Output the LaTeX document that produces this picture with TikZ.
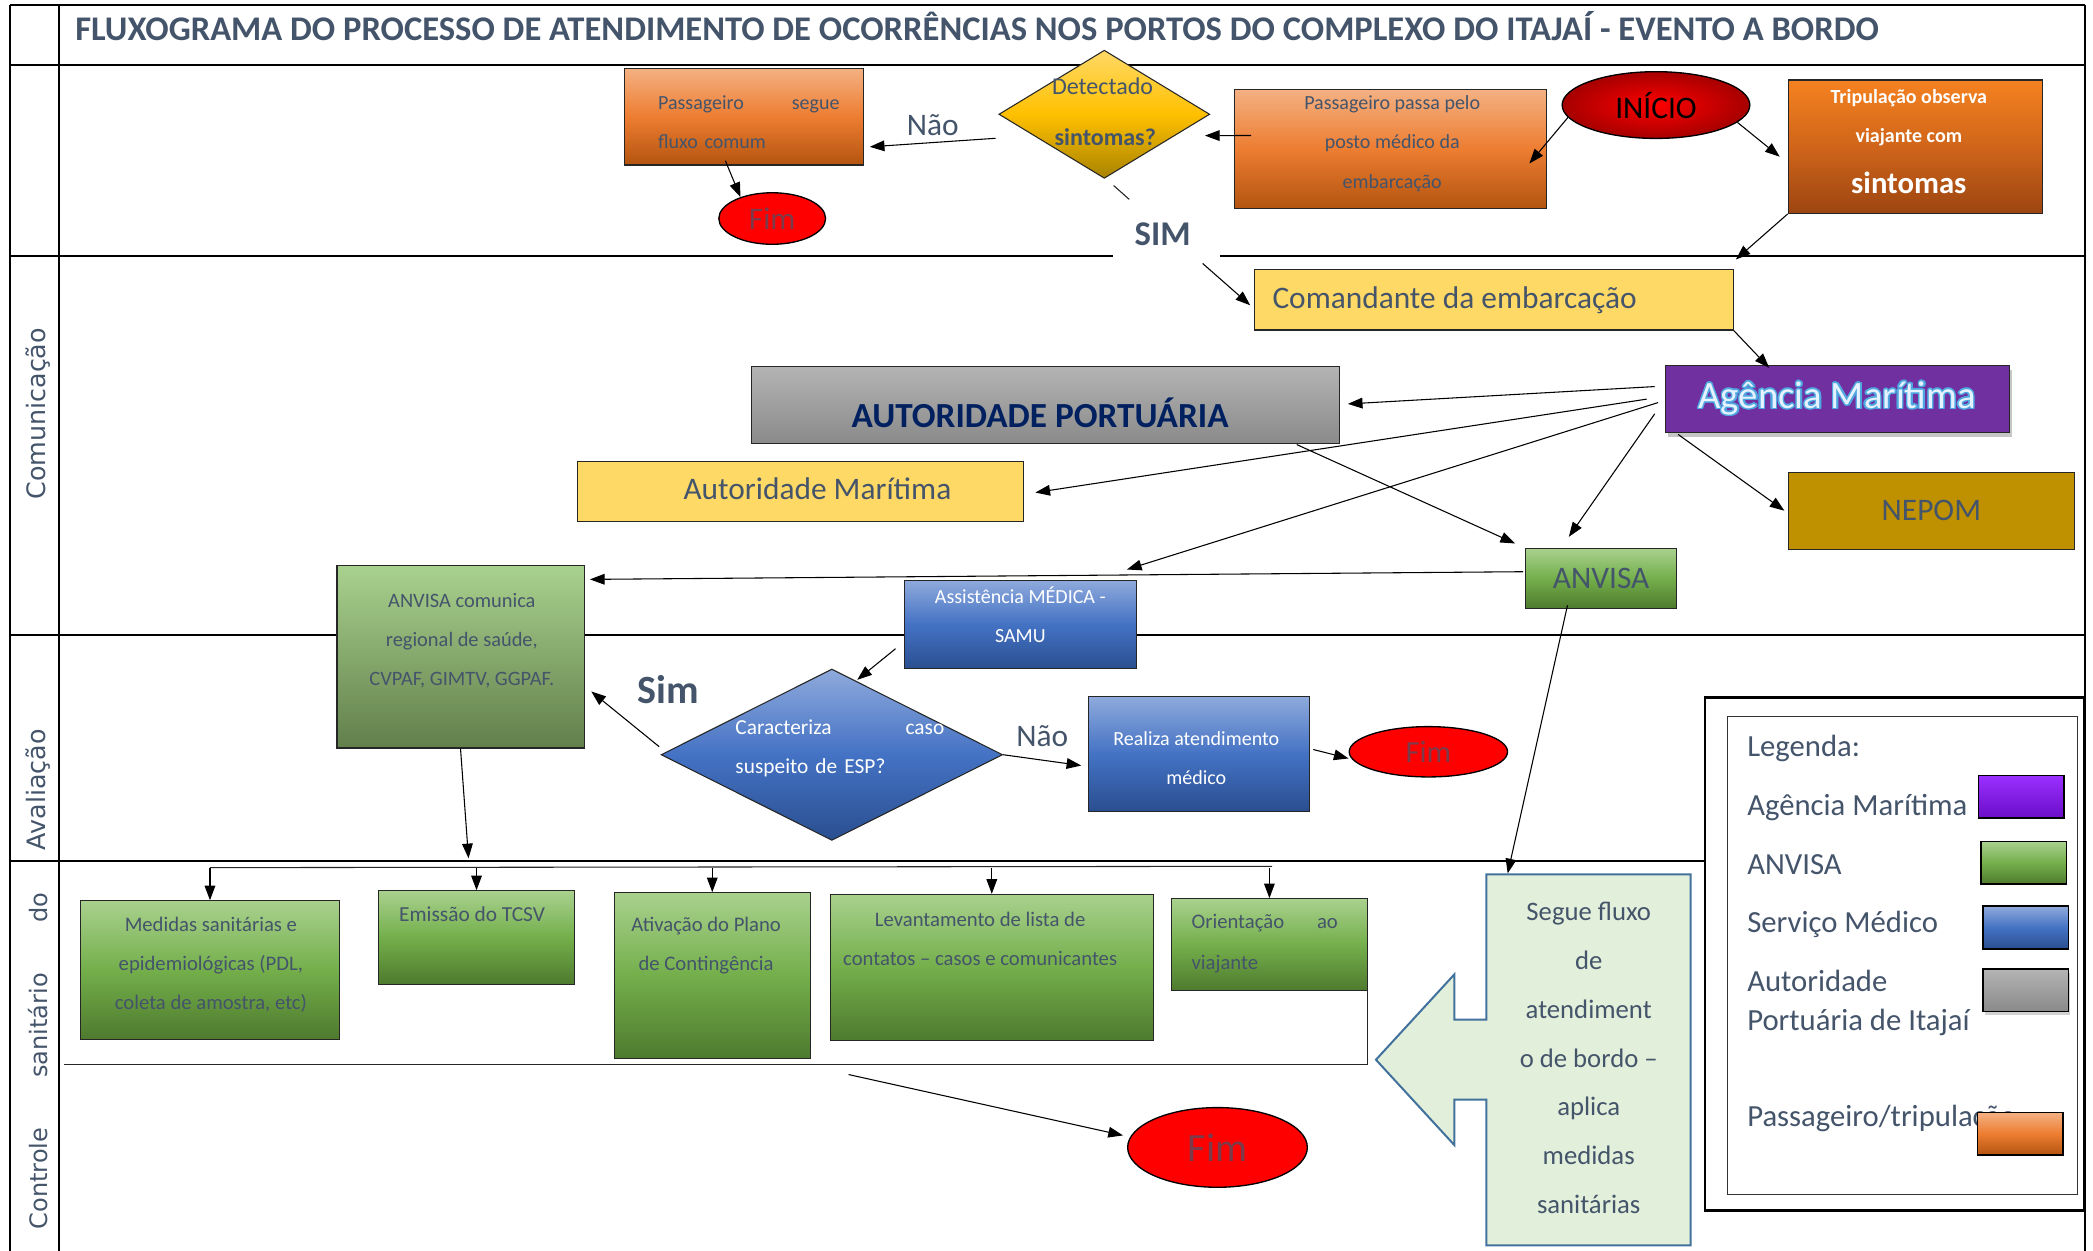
\documentclass[tikz,border=0pt]{standalone}
\usepackage{fontspec}
\setmainfont{Carlito}
\newfontfamily\lanefont{DejaVu Sans}
\usepackage{tikz}
\usetikzlibrary{calc,positioning,shapes.geometric,arrows.meta,shadows}
\usepackage{contour}
\contourlength{1.1pt}

\definecolor{slate}{HTML}{44546A}
\definecolor{navy}{HTML}{002060}
\definecolor{oranA}{HTML}{F4B183}
\definecolor{oranB}{HTML}{ED7D31}
\definecolor{oranC}{HTML}{B3540F}
\definecolor{tripA}{HTML}{F58220}
\definecolor{tripB}{HTML}{D0651A}
\definecolor{tripC}{HTML}{9C4511}
\definecolor{goldA}{HTML}{FFD966}
\definecolor{goldB}{HTML}{FFC000}
\definecolor{goldC}{HTML}{A88300}
\definecolor{yelo}{HTML}{FFD966}
\definecolor{nepomc}{HTML}{BF9000}
\definecolor{purp}{HTML}{7030A0}
\definecolor{greenA}{HTML}{A9D18E}
\definecolor{greenB}{HTML}{74AF4B}
\definecolor{greenC}{HTML}{4E7A2E}
\definecolor{greenD}{HTML}{617F4B}
\definecolor{blueA}{HTML}{8FAADC}
\definecolor{blueB}{HTML}{4472C4}
\definecolor{blueC}{HTML}{2A4F90}
\definecolor{grayA}{HTML}{B4B4B4}
\definecolor{grayC}{HTML}{8A8A8A}
\definecolor{callfill}{HTML}{E2EFDA}
\definecolor{callline}{HTML}{41719C}
\definecolor{glow}{HTML}{4FA8E0}
\definecolor{agtxt}{HTML}{E6F2FF}
\definecolor{violA}{HTML}{9B30FF}
\definecolor{violC}{HTML}{6A0DC8}
\colorlet{fimtxt}{slate!70!red}

\newcommand{\fsz}[2]{\fontsize{#1}{#2}\selectfont}

\tikzset{
  lane/.style={line width=1.6pt},
  linha/.style={line width=0.8pt, draw=black!85},
  caixa/.style={draw=black!85, line width=0.8pt, inner sep=0pt, text=slate},
  laranja/.style={caixa, top color=oranA, bottom color=oranC, middle color=oranB},
  tripbox/.style={caixa, top color=tripA, bottom color=tripC, middle color=tripB},
  ouro/.style={caixa, diamond, top color=goldA, bottom color=goldC, middle color=goldB},
  amarelo/.style={caixa, fill=yelo},
  verde/.style={caixa, top color=greenA, bottom color=greenC, middle color=greenB},
  verdeclaro/.style={caixa, top color=greenA, bottom color=greenD},
  azul/.style={caixa, top color=blueA, bottom color=blueC, middle color=blueB, text=white},
  cinza/.style={caixa, top color=grayA, bottom color=grayC},
  vermelho/.style={ellipse, draw=black, line width=1pt, fill=red, inner sep=0pt, text=fimtxt},
  txt/.style={inner sep=0pt, text=slate, align=center},
  seta/.style={-{Triangle[length=11pt,width=8pt]}, line width=0.8pt},
  rotulo/.style={inner sep=0pt, text=slate, font=\lanefont\fsz{19}{23}},
  amostra/.style={draw=black, line width=1.3pt, inner sep=0pt, minimum width=64pt, minimum height=32pt},
}

\begin{document}
\begin{tikzpicture}[x=1pt,y=-1pt]
\useasboundingbox (0,0) rectangle (1568,937);

% raias
\draw[lane] (7.6,3.7) -- (1562,3.7);
\draw[lane] (7.6,3.7) -- (7.6,937);
\draw[lane] (44.3,3.7) -- (44.3,937);
\draw[lane] (1562,3.7) -- (1562,937);
\draw[lane] (7.6,48.7) -- (1562,48.7);
\draw[lane] (7.6,191.8) -- (834,191.8);
\draw[lane] (913.7,191.8) -- (1562,191.8);
\draw[lane] (7.6,475.7) -- (1562,475.7);
\draw[lane] (7.6,644.7) -- (1562,644.7);

\node[txt, anchor=west, font=\bfseries\fsz{25.9}{30}] (titulo) at (56.2,19.4) {FLUXOGRAMA DO PROCESSO DE ATENDIMENTO DE OCORRÊNCIAS NOS PORTOS DO COMPLEXO DO ITAJAÍ - EVENTO A BORDO};

\node[rotulo, rotate=90] (lcom) at (28.3,310) {Comunicação};
\node[rotulo, rotate=90] (lava) at (28.3,591.5) {Avaliação};
\node[rotulo, rotate=90, font=\lanefont\fsz{18}{22}, text width=252pt, align=left] (lcon) at (28.3,795) {Controle\hfill sanitário\hfill do};

% bordo
\node[laranja, minimum width=179.6pt, minimum height=72.4pt] (segue) at (557.4,87.4) {};
\node[txt, font=\fsz{15}{29.4}, text width=136pt, align=left] (seguetxt) at (561,91.4) {Passageiro\hfill segue\\fluxo comum};
\node[vermelho, minimum width=80pt, minimum height=38.6pt, font=\fsz{23.5}{28}] (fim1) at (578.5,163.7) {Fim};
\node[ouro, minimum width=158pt, minimum height=96pt] (detect) at (827.3,85.6) {};
\node[txt, font=\fsz{18}{22}] (dettxt) at (826,64.4) {Detectado};
\node[txt, font=\bfseries\fsz{18}{22}] (sinttxt) at (828,102.4) {sintomas?};
\node[laranja, minimum width=233.7pt, minimum height=89.1pt] (pp) at (1041.5,111.5) {};
\node[txt, font=\fsz{15}{29.4}] (pptxt) at (1043,107.5) {Passageiro passa pelo\\posto médico da\\embarcação};
\node[vermelho, inner color=red, outer color=red!65!black, minimum width=140.6pt, minimum height=50pt, text=black, font=\fsz{23.5}{28}] (inicio) at (1240.6,78.7) {INÍCIO};
\node[tripbox, minimum width=190.4pt, minimum height=99.9pt] (trip) at (1434.9,109.9) {};
\node[txt, text=white, font=\bfseries\fsz{15}{29.2}] (triptxt) at (1430,87.8) {Tripulação observa\\viajante com};
\node[txt, text=white, font=\bfseries\fsz{23}{28}] (tripsint) at (1430,137.3) {sintomas};
\node[txt, font=\bfseries\fsz{26}{30}] (sim) at (871,175.4) {SIM};

% comunicacao
\node[amarelo, minimum width=358.4pt, minimum height=45pt] (coman) at (1119.2,224.7) {};
\node[txt, font=\fsz{23.5}{28}, right=13.5pt of coman.west] (comantxt) {Comandante da embarcação};
\node[caixa, fill=purp, minimum width=257.7pt, minimum height=50.1pt, drop shadow={shadow xshift=2pt, shadow yshift=-3pt, opacity=0.45}, font=\fsz{29}{34}, text=agtxt] (agencia) at (1376.4,299) {\contour{glow}{Agência Marítima}};
\node[cinza, minimum width=440.3pt, minimum height=57.9pt] (autport) at (783.2,303.2) {};
\node[txt, text=navy, font=\bfseries\fsz{26.4}{30}] (autporttxt) at (779.2,309.6) {AUTORIDADE PORTUÁRIA};
\node[amarelo, minimum width=334.1pt, minimum height=45.4pt] (automar) at (599.6,368.1) {};
\node[txt, font=\fsz{23.5}{28}] (automartxt) at (612.4,366.5) {Autoridade Marítima};
\node[caixa, fill=nepomc, minimum width=214.2pt, minimum height=57.9pt, font=\fsz{23.5}{28}] (nepom) at (1446.9,382.6) {NEPOM};
\node[verde, minimum width=113.1pt, minimum height=44.9pt, font=\fsz{23.5}{28}] (anvisa) at (1199.5,433.3) {ANVISA};
\node[verdeclaro, minimum width=185.1pt, minimum height=136.7pt] (anvcom) at (345,492) {};
\node[txt, font=\fsz{15.3}{29.2}] (anvcomtxt) at (346,479.8) {ANVISA comunica\\regional de saúde,\\CVPAF, GIMTV, GGPAF.};
\node[azul, minimum width=174.1pt, minimum height=66.5pt] (samu) at (764.4,467.8) {};
\node[txt, text=white, font=\fsz{15}{29.3}] (samutxt) at (764.4,460.4) {Assistência MÉDICA -\\SAMU};

% avaliacao
\node[txt, font=\bfseries\fsz{30}{34}] (sim2) at (500.4,516.3) {Sim};
\node[azul, diamond, minimum width=255.9pt, minimum height=128.4pt] (carac) at (623.2,565.4) {};
\node[txt, text=white, font=\fsz{16}{29.6}, text width=156.4pt, align=left] (caractxt) at (629.2,560.6) {Caracteriza\hfill caso\\suspeito de ESP?};
\node[azul, minimum width=165.5pt, minimum height=85.9pt] (realiza) at (898.2,564.7) {};
\node[txt, text=white, font=\fsz{15}{29.2}] (realizatxt) at (896.2,568) {Realiza atendimento\\médico};
\node[vermelho, minimum width=118.6pt, minimum height=37.7pt, font=\fsz{23}{28}] (fim2) at (1070.1,563.2) {Fim};

% controle sanitario
\node[verde, minimum width=194.2pt, minimum height=103.7pt] (medidas) at (157.3,726.7) {};
\node[txt, font=\fsz{15.5}{29.4}] (medidastxt) at (158,722.9) {Medidas sanitárias e\\epidemiológicas (PDL,\\coleta de amostra, etc)};
\node[verde, minimum width=147pt, minimum height=69.9pt] (tcsv) at (357,702.3) {};
\node[txt, font=\fsz{16}{29.4}] (tcsvtxt) at (353.7,684.5) {Emissão do TCSV};
\node[verde, minimum width=147pt, minimum height=124.2pt] (ativ) at (533.6,730.9) {};
\node[txt, font=\fsz{15.5}{29.3}] (ativtxt) at (529,708.2) {Ativação do Plano\\de Contingência};
\node[verde, minimum width=241.7pt, minimum height=109.4pt] (levant) at (743,724.7) {};
\node[txt, font=\fsz{15.5}{29.2}] (levanttxt) at (734.3,703.6) {Levantamento de lista de\\contatos – casos e comunicantes};
\node[verde, minimum width=146.5pt, minimum height=69pt] (orient) at (951,707.8) {};
\node[txt, font=\fsz{15.5}{30.1}, text width=109.6pt, align=left] (orienttxt) at (947.5,707) {Orientação\hfill ao\\viajante};

\draw[fill=callfill, draw=callline, line width=1.5pt] (1113.5,655) -- (1266.5,655) -- (1266.5,933) -- (1113.5,933) -- (1113.5,823.8) -- (1089.5,823.8) -- (1089.5,857.8) -- (1030.8,793.9) -- (1089.5,730) -- (1089.5,763.8) -- (1113.5,763.8) -- cycle;
\node[txt, font=\fsz{20}{36.5}] (seguefluxo) at (1190.2,792.6) {Segue fluxo\\de\\atendiment\\o de bordo –\\aplica\\medidas\\sanitárias};
\coordinate (segtop) at (1129.5,654.3);

\node[vermelho, minimum width=134.6pt, minimum height=59.7pt, font=\fsz{30}{34}] (fim3) at (912.1,859.6) {Fim};

\coordinate (dist0) at (351,643);
\coordinate (dist1) at (157.3,650);
\coordinate (dist2) at (953,649);
\coordinate (brk) at (47.6,797.5);
\coordinate (brkfim) at (635.7,805);

% conectores
\draw[seta] ([shift={(13,-10)}]pp.west) -- ([shift={(-4,16)}]detect.east);
\draw[seta] ([shift={(-2,18)}]detect.west) -- node[txt, above=5pt, font=\fsz{23.5}{28}] (nao1) {Não} ([shift={(4,22.6)}]segue.east);
\draw[seta] ([shift={(-14,-3.6)}]segue.south) -- (fim1.146);
\draw[seta] (inicio.188) -- ([shift={(-13,11)}]pp.east);
\draw[seta] (inicio.-12) -- ([shift={(-6,7.5)}]trip.west);
\draw[seta] (trip.south west) -- ([shift={(1.6,-7.4)}]coman.north east);
\draw[linha] ([shift={(7,5)}]detect.south) -- ([shift={(-25,-26)}]sim.center);
\draw[seta] ([shift={(30,22)}]sim.center) -- ([shift={(-3,4)}]coman.west);
\draw[seta] (coman.south east) -- ([shift={(-51,2)}]agencia.north);
\draw[seta] ([shift={(-7.5,-9.4)}]agencia.west) -- ([shift={(6,-0.6)}]autport.east);
\draw[seta] ([shift={(-13.5,0)}]agencia.west) -- ([shift={(8.6,0.9)}]automar.east);
\draw[seta] ([shift={(-5,2.6)}]agencia.west) -- ([shift={(-7.6,-7.5)}]samu.north east);
\draw[seta] ([shift={(-7.5,11)}]agencia.west) -- ([shift={(-24.2,-8.3)}]anvisa.north);
\draw[seta] ([shift={(10,1)}]agencia.south west) -- ([shift={(-2.6,0)}]nepom.west);
\draw[seta] ([shift={(-32.3,0.5)}]autport.south east) -- ([shift={(-7.5,-3.3)}]anvisa.north west);
\draw[seta] ([shift={(-1.5,-5)}]anvisa.west) -- ([shift={(4,10.8)}]anvcom.north east);
\draw[seta] ([shift={(-25.2,-2.7)}]anvisa.south) -- (segtop);
\draw[seta] ([shift={(-6,-15.5)}]samu.south west) -- ([shift={(19,8.5)}]carac.north);
\draw[seta] ([shift={(-1,-6)}]carac.west) -- ([shift={(5,26)}]anvcom.east);
\draw[seta] (carac.east) -- node[txt, above=10pt, font=\fsz{23.5}{28}] (nao2) {Não} ([shift={(-5,8.8)}]realiza.west);
\draw[seta] ([shift={(2.5,-3.2)}]realiza.east) -- ([shift={(0,5)}]fim2.west);
\draw[seta] (anvcom.south) -- (dist0);
\draw[linha] (dist1) -- (dist2);
\foreach \b in {medidas,tcsv,ativ,levant,orient}
  \draw[seta] (\b.north |- dist1) -- (\b.north);
\draw[linha] (orient.south east) |- (brk);
\draw[seta] (brkfim) -- ([shift={(-3,-9)}]fim3.west);

% legenda
\node[draw, line width=2pt, fill=white, minimum width=284.1pt, minimum height=384pt, inner sep=0pt] (legenda) at (1419.45,714.6) {};
\node[draw=black!80, line width=0.8pt, minimum width=262.7pt, minimum height=357.8pt, inner sep=0pt] (legin) at (1425.25,715.9) {};
\node[txt, anchor=west, font=\fsz{23}{29.2}] (legtit) at (1308.8,561) {Legenda:};
\node[txt, anchor=west, font=\fsz{23}{29.2}] (legag) at (1308.8,604.6) {Agência Marítima};
\node[txt, anchor=west, font=\fsz{23}{29.2}] (legan) at (1308.8,647.7) {ANVISA};
\node[txt, anchor=west, font=\fsz{23}{29.2}] (legsm) at (1308.8,692.6) {Serviço Médico};
\node[txt, anchor=west, font=\fsz{23}{29.2}, align=left] (legap) at (1308.8,751.2) {Autoridade\\Portuária de Itajaí};
\node[txt, anchor=west, font=\fsz{23}{29.2}] (legpt) at (1308.8,838.2) {Passageiro/tripulação};
\node[amostra, top color=violA, bottom color=violC] (sqag) at (1514.2,596.9) {};
\node[amostra, top color=greenA, bottom color=greenC, middle color=greenB] (sqan) at (1516.2,646.5) {};
\node[amostra, top color=blueA, bottom color=blueC, middle color=blueB] (sqsm) at (1517.6,694.9) {};
\node[amostra, top color=grayA, bottom color=grayC, drop shadow={shadow xshift=1.5pt, shadow yshift=-3pt, opacity=0.35}] (sqap) at (1517.6,741.7) {};
\node[amostra, top color=oranA, bottom color=oranC, middle color=oranB] (sqpt) at (1513.5,849.4) {};
\end{tikzpicture}
\end{document}
